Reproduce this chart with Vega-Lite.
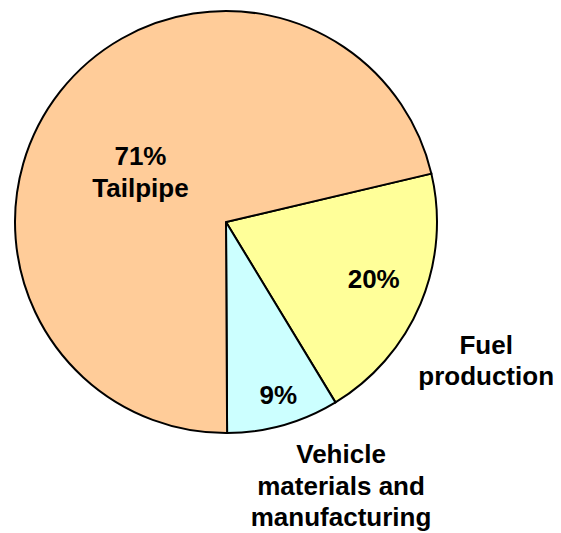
{
  "$schema": "https://vega.github.io/schema/vega-lite/v6.json",
  "width": 452,
  "height": 444,
  "autosize": "none",
  "padding": {"left": 0, "top": 0, "right": 109, "bottom": 89},
  "background": "white",
  "config": {"view": {"stroke": null}},
  "data": {
    "values": [
      {"category": "Fuel production", "rank": 1, "value": 20.0, "pct": "20%", "outer": "Fuel\nproduction"},
      {"category": "Vehicle materials and manufacturing", "rank": 2, "value": 8.6, "pct": "9%", "outer": "Vehicle\nmaterials and\nmanufacturing"},
      {"category": "Tailpipe", "rank": 3, "value": 71.4, "pct": "71%\nTailpipe", "outer": ""}
    ]
  },
  "encoding": {
    "theta": {"field": "value", "type": "quantitative", "stack": true, "scale": {"range": [1.3394, 7.6226]}},
    "order": {"field": "rank", "type": "quantitative"}
  },
  "layer": [
    {
      "mark": {"type": "arc", "radius": 211, "stroke": "black", "strokeWidth": 2},
      "encoding": {
        "color": {
          "field": "category",
          "type": "nominal",
          "scale": {
            "domain": ["Fuel production", "Vehicle materials and manufacturing", "Tailpipe"],
            "range": ["#FFFF99", "#CCFFFF", "#FFCC99"]
          },
          "legend": null
        }
      }
    },
    {
      "mark": {"type": "text", "radius": 100, "dx": -7, "dy": -3, "font": "Liberation Sans", "fontWeight": "bold", "fontSize": 26, "lineBreak": "\n", "lineHeight": 32, "align": "center", "baseline": "middle", "color": "black"},
      "encoding": {
        "text": {"condition": {"test": "datum.rank === 3", "field": "pct"}, "value": ""}
      }
    },
    {
      "mark": {"type": "text", "radius": 158, "dx": 2, "dy": -3, "font": "Liberation Sans", "fontWeight": "bold", "fontSize": 26, "align": "center", "baseline": "middle", "color": "black"},
      "encoding": {
        "text": {"condition": {"test": "datum.rank === 1", "field": "pct"}, "value": ""}
      }
    },
    {
      "mark": {"type": "text", "radius": 181, "dx": 3, "dy": 0, "font": "Liberation Sans", "fontWeight": "bold", "fontSize": 26, "align": "center", "baseline": "middle", "color": "black"},
      "encoding": {
        "text": {"condition": {"test": "datum.rank === 2", "field": "pct"}, "value": ""}
      }
    },
    {
      "mark": {"type": "text", "radius": 294, "dx": -11, "dy": 10, "font": "Liberation Sans", "fontWeight": "bold", "fontSize": 26, "lineBreak": "\n", "lineHeight": 31, "align": "center", "baseline": "middle", "color": "black"},
      "encoding": {
        "text": {"condition": {"test": "datum.rank === 1", "field": "outer"}, "value": ""}
      }
    },
    {
      "mark": {"type": "text", "radius": 287, "dx": 37, "dy": -43, "font": "Liberation Sans", "fontWeight": "bold", "fontSize": 26, "lineBreak": "\n", "lineHeight": 31.5, "align": "center", "baseline": "middle", "color": "black"},
      "encoding": {
        "text": {"condition": {"test": "datum.rank === 2", "field": "outer"}, "value": ""}
      }
    }
  ]
}
